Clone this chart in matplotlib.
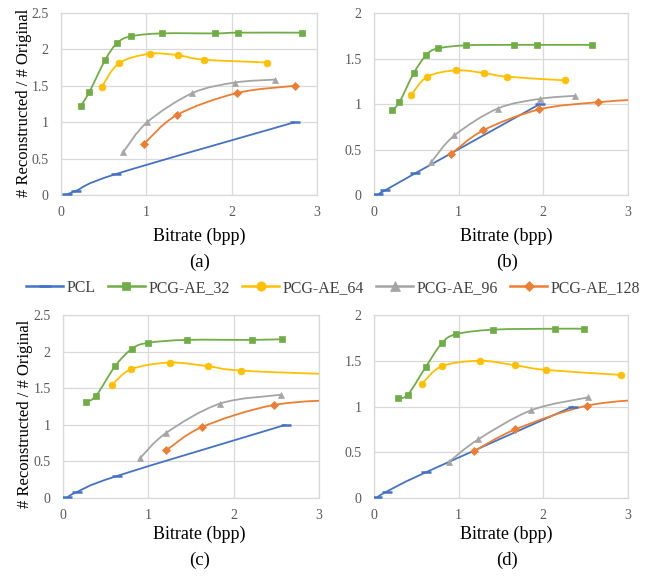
import matplotlib
matplotlib.use("Agg")
import matplotlib.pyplot as plt
import numpy as np
from matplotlib.lines import Line2D
from matplotlib.patches import PathPatch
from matplotlib.path import Path

plt.rcParams["font.family"] = ["Liberation Serif", "DejaVu Serif"]

SERIES = ["PCL", "PCG-AE_32", "PCG-AE_64", "PCG-AE_96", "PCG-AE_128"]
COLORS = ["#4472C4", "#70AD47", "#FFC000", "#A5A5A5", "#ED7D31"]
MARKERS = ["_", "s", "o", "^", "D"]
MSIZES = [6.5, 4.6, 4.9, 5.0, 3.8]

# (a)
A_PCL_X = [0.07, 0.18, 0.65, 2.74]
A_PCL_Y = [0.01, 0.06, 0.29, 1.0]
A_32_X = [0.23, 0.33, 0.52, 0.66, 0.82, 1.18, 1.81, 2.08, 2.82]
A_32_Y = [1.22, 1.41, 1.86, 2.09, 2.18, 2.22, 2.22, 2.23, 2.23]
A_64_X = [0.48, 0.68, 1.04, 1.37, 1.67, 2.41]
A_64_Y = [1.49, 1.81, 1.94, 1.92, 1.86, 1.82]
A_96_X = [0.73, 1.01, 1.54, 2.04, 2.51]
A_96_Y = [0.59, 1.0, 1.40, 1.545, 1.585]
A_128_X = [0.97, 1.36, 2.06, 2.74]
A_128_Y = [0.70, 1.10, 1.40, 1.50]

# (b)
B_PCL_X = [0.05, 0.13, 0.49, 1.96]
B_PCL_Y = [0.01, 0.05, 0.24, 1.0]
B_32_X = [0.21, 0.30, 0.47, 0.62, 0.75, 1.09, 1.65, 1.93, 2.58]
B_32_Y = [0.93, 1.02, 1.34, 1.54, 1.61, 1.645, 1.65, 1.65, 1.65]
B_64_X = [0.44, 0.63, 0.97, 1.30, 1.57, 2.25]
B_64_Y = [1.10, 1.30, 1.37, 1.34, 1.30, 1.26]
B_96_X = [0.675, 0.95, 1.46, 1.96, 2.37]
B_96_Y = [0.36, 0.655, 0.95, 1.057, 1.09]
B_128_X = [0.91, 1.29, 1.95, 2.65, 3.5]
B_128_Y = [0.45, 0.71, 0.94, 1.02, 1.07]

# (c)
C_PCL_X = [0.05, 0.16, 0.63, 2.61]
C_PCL_Y = [0.01, 0.08, 0.30, 1.0]
C_32_X = [0.27, 0.39, 0.61, 0.81, 1.00, 1.45, 2.22, 2.57]
C_32_Y = [1.31, 1.40, 1.80, 2.04, 2.12, 2.16, 2.16, 2.17]
C_64_X = [0.57, 0.80, 1.25, 1.70, 2.09, 3.4]
C_64_Y = [1.54, 1.76, 1.85, 1.80, 1.74, 1.68]
C_96_X = [0.90, 1.21, 1.84, 2.55]
C_96_Y = [0.54, 0.89, 1.29, 1.41]
C_128_X = [1.21, 1.63, 2.47, 3.4]
C_128_Y = [0.65, 0.97, 1.27, 1.35]

# (d)
D_PCL_X = [0.04, 0.15, 0.61, 2.35]
D_PCL_Y = [0.01, 0.07, 0.28, 1.0]
D_32_X = [0.28, 0.40, 0.61, 0.80, 0.97, 1.41, 2.14, 2.48]
D_32_Y = [1.09, 1.13, 1.43, 1.69, 1.79, 1.84, 1.85, 1.85]
D_64_X = [0.57, 0.80, 1.25, 1.67, 2.03, 2.92]
D_64_Y = [1.25, 1.44, 1.50, 1.45, 1.40, 1.345]
D_96_X = [0.88, 1.23, 1.86, 2.53]
D_96_Y = [0.39, 0.64, 0.96, 1.10]
D_128_X = [1.18, 1.67, 2.52, 3.4]
D_128_Y = [0.51, 0.75, 1.01, 1.09]

PANELS = {
    "a": [(A_PCL_X, A_PCL_Y), (A_32_X, A_32_Y), (A_64_X, A_64_Y), (A_96_X, A_96_Y), (A_128_X, A_128_Y)],
    "b": [(B_PCL_X, B_PCL_Y), (B_32_X, B_32_Y), (B_64_X, B_64_Y), (B_96_X, B_96_Y), (B_128_X, B_128_Y)],
    "c": [(C_PCL_X, C_PCL_Y), (C_32_X, C_32_Y), (C_64_X, C_64_Y), (C_96_X, C_96_Y), (C_128_X, C_128_Y)],
    "d": [(D_PCL_X, D_PCL_Y), (D_32_X, D_32_Y), (D_64_X, D_64_Y), (D_96_X, D_96_Y), (D_128_X, D_128_Y)],
}
YMAX = {"a": 2.5, "b": 2.0, "c": 2.5, "d": 2.0}


def smooth_path(x, y):
    # Excel-style smoothed line: Catmull-Rom segments as cubic Beziers
    pts = np.column_stack([x, y]).astype(float)
    n = len(pts)
    verts = [pts[0]]
    codes = [Path.MOVETO]
    for i in range(n - 1):
        p0 = pts[max(i - 1, 0)]
        p1 = pts[i]
        p2 = pts[i + 1]
        p3 = pts[min(i + 2, n - 1)]
        verts += [p1 + (p2 - p0) / 6, p2 - (p3 - p1) / 6, p2]
        codes += [Path.CURVE4] * 3
    return Path(verts, codes)


def fmt(v):
    return f"{v:g}"


W, H = 658, 576
fig = plt.figure(figsize=(W / 100, H / 100), dpi=100)

boxes = {
    "a": (61, 13, 317, 195),
    "b": (374, 13, 628, 195),
    "c": (63, 315, 319, 498),
    "d": (374, 315, 628, 498),
}

for key, (l, t, r, b) in boxes.items():
    ax = fig.add_axes([l / W, 1 - b / H, (r - l) / W, (b - t) / H])
    for (x, y), c, m, ms in zip(PANELS[key], COLORS, MARKERS, MSIZES):
        ax.add_patch(PathPatch(smooth_path(x, y), fill=False, edgecolor=c, lw=1.3, zorder=3))
        ax.plot(x, y, ls="none", marker=m, color=c, ms=ms, mew=1.8 if m == "_" else 0.5, zorder=4)
    ax.set_xlim(0, 3)
    ax.set_ylim(0, YMAX[key])
    ax.set_xticks([0, 1, 2, 3])
    yt = np.arange(0, YMAX[key] + 0.01, 0.5)
    ax.set_yticks(yt)
    ax.set_yticklabels([fmt(v) for v in yt])
    ax.grid(True, color="#d9d9d9", lw=0.9)
    ax.set_axisbelow(True)
    for s in ax.spines.values():
        s.set_color("#d9d9d9")
        s.set_linewidth(0.9)
    ax.tick_params(length=0, labelsize=10, labelcolor="#595959")
    ax.tick_params(axis="x", pad=8)
    ax.tick_params(axis="y", pad=9)

for x, y in [(199, 236), (506, 236), (199, 534), (506, 534)]:
    fig.text(x / W, 1 - y / H, "Bitrate (bpp)", ha="center", va="center", fontsize=13)
for lab, x, y in [("(a)", 200, 262), ("(b)", 507, 262), ("(c)", 200, 560), ("(d)", 507, 560)]:
    fig.text(x / W, 1 - y / H, lab, ha="center", va="center", fontsize=13.5)
for x, y in [(24, 103), (25, 414)]:
    fig.text(x / W, 1 - y / H, "# Reconstructed / # Original", ha="center", va="center",
             rotation=90, fontsize=12)

handles = [Line2D([], [], color=c, marker=m, ms=ms + 1.8, mew=1.8 if m == "_" else 0.5, lw=1.8)
           for c, m, ms in zip(COLORS, MARKERS, MSIZES)]
fig.legend(handles, SERIES, loc="center", bbox_to_anchor=(333 / W, 1 - 288 / H), ncol=5,
           frameon=False, fontsize=11.5, handlelength=2.35, handletextpad=0.2,
           columnspacing=0.75, borderaxespad=0, labelcolor="#404040")

fig.savefig("out.png", dpi=100)
